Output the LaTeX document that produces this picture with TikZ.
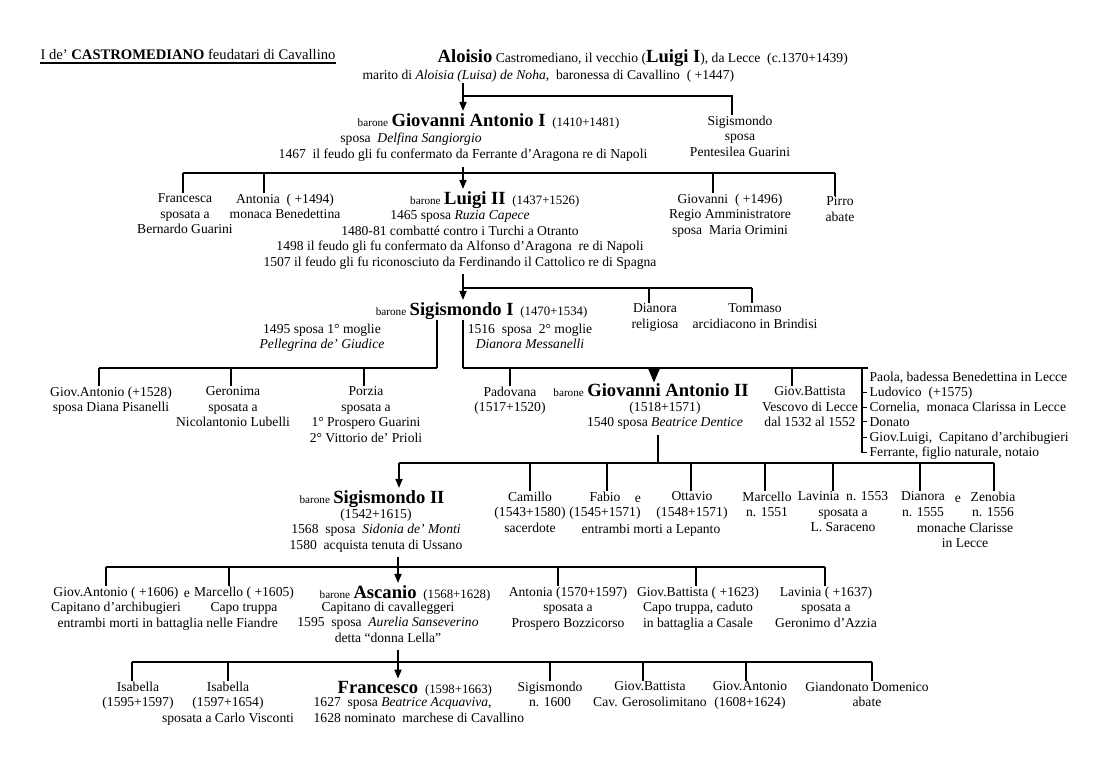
\documentclass[tikz,border=0pt]{standalone}
\usepackage{fontspec}
\setmainfont{Liberation Serif}
\usetikzlibrary{arrows.meta}
\newcommand\bodyf{\fontsize{6.8}{7.7}\selectfont}
\newcommand\namef{\fontsize{9.3}{10}\selectfont\bfseries}
\newcommand\smallf{\fontsize{5.6}{6.5}\selectfont}
\newcommand\datef{\fontsize{6.4}{7.7}\selectfont}
\newcommand\baro{{\smallf barone}\ }
\begin{document}
\begin{tikzpicture}[x=0.5pt,y=-0.5pt,line width=0.65pt,
  ml/.style={inner sep=0pt,align=center,anchor=north,yshift=5.39pt,font=\bodyf,execute at begin node=\strut},
  mll/.style={ml,align=left,anchor=north west},
  one/.style={inner sep=0pt,anchor=base,font=\bodyf},
  arr/.style={-{Triangle[length=4.5pt,width=3.6pt]},shorten >=0.8pt},
  bigarr/.style={-{Triangle[length=7pt,width=5.8pt]}},
  fromp/.style={shorten <=1.5pt}]
\fill[white] (0,0) rectangle (1100,757);
\useasboundingbox (0,0) rectangle (1100,757);

% ---------- row 0
\node[one,anchor=base west,font=\fontsize{7.3}{8}\selectfont] (title) at (40,59) {I de’ \textbf{CASTROMEDIANO}\ feudatari di Cavallino};
\draw[line width=0.6pt] ([yshift=-2pt]title.base west) -- ([yshift=-2pt]title.base east);
\node[one,anchor=base west] (aloisio) at (437,62) {{\namef Aloisio} Castromediano, il vecchio ({\namef Luigi I}), da Lecce\ \ (c.1370+1439)};
\node[one,anchor=base west] (marito) at (362,79) {marito di \textit{Aloisia (Luisa) de Noha},\ \ baronessa di Cavallino\ \ ( +1447)};

% ---------- row 1
\node[one,anchor=base east] (ga1) at (620,126) {\baro{\namef Giovanni Antonio I}\ \ {\datef(1410+1481)}};
\node[ml] (ga1s) at (411,142) {sposa\ \ \textit{Delfina Sangiorgio}};
\node[ml] (ga1f) at (463,158) {1467\ \ il feudo gli fu confermato da Ferrante d’Aragona re di Napoli};
\node[ml] (sig) at (740,126) {Sigismondo\\sposa\\Pentesilea Guarini};

\coordinate (j0) at (463,96);
\coordinate (s0) at (732,96);
\draw[arr] (marito.south -| j0) -- (j0 |- ga1.north);
\draw (j0) -- (s0) -- (s0 |- sig.north);

% ---------- row 2
\node[ml] (fr) at (185,204) {Francesca\\sposata a\\Bernardo Guarini};
\node[ml] (an) at (285,204) {Antonia\ \ ( +1494)\\monaca Benedettina};
\node[one,anchor=base east] (lu2) at (580,204) {\baro{\namef Luigi II}\ \ {\datef(1437+1526)}};
\node[ml] (lu2i) at (460,221) {1465 sposa \textit{Ruzia Capece}\\1480-81 combatté contro i Turchi a Otranto\\1498 il feudo gli fu confermato da Alfonso d’Aragona\ \ re di Napoli\\1507 il feudo gli fu riconosciuto da Ferdinando il Cattolico re di Spagna};
\node[ml] (gi) at (730,204) {Giovanni\ \ ( +1496)\\Regio Amministratore\\sposa\ \ Maria Orimini};
\node[ml] (pi) at (840,207) {Pirro\\abate};

\coordinate (j1) at (463,173);
\coordinate (d1fr) at (183,173);
\coordinate (d1an) at (264,173);
\coordinate (d1gi) at (713,173);
\coordinate (d1pi) at (835,173);
\draw[fromp] (ga1f.south -| j1) -- (j1);
\draw (d1fr) -- (d1pi);
\draw (d1fr) -- (d1fr |- fr.north);
\draw (d1an) -- (d1an |- an.north);
\draw (d1gi) -- (d1gi |- gi.north);
\draw (d1pi) -- (d1pi |- pi.north);
\draw[arr] (j1) -- (j1 |- lu2.north);

% ---------- row 3
\node[one,anchor=base east] (sg1) at (588,315) {\baro{\namef Sigismondo I}\ \ {\datef(1470+1534)}};
\node[ml] (sg1a) at (322,334) {1495 sposa 1° moglie\\\textit{Pellegrina de’ Giudice}};
\node[ml] (sg1b) at (530,334) {1516\ \ sposa\ \ 2° moglie\\\textit{Dianora Messanelli}};
\node[ml] (di) at (655,314) {Dianora\\religiosa};
\node[ml] (to) at (755,314) {Tommaso\\arcidiacono in Brindisi};

\coordinate (j2) at (463,288);
\coordinate (d2di) at (649,288);
\coordinate (d2to) at (752,288);
\draw[fromp] (lu2i.south -| j2) -- (j2) -- (d2to);
\draw (d2di) -- (d2di |- di.north);
\draw (d2to) -- (d2to |- to.north);
\draw[arr] (j2) -- (j2 |- sg1.north);

% ---------- row 4
\node[ml] (gia) at (111,397) {Giov.Antonio (+1528)\\sposa Diana Pisanelli};
\node[ml] (ger) at (233,397) {Geronima\\sposata a\\Nicolantonio Lubelli};
\node[ml] (por) at (366,397) {Porzia\\sposata a\\1° Prospero Guarini\\2° Vittorio de’ Prioli};
\node[ml] (pad) at (510,397) {Padovana\\(1517+1520)};
\node[one] (ga2) at (651,396) {\baro{\namef Giovanni Antonio II}};
\node[ml] (ga2i) at (665,412) {(1518+1571)\\1540 sposa \textit{Beatrice Dentice}};
\node[ml] (gb) at (810,397) {Giov.Battista\\Vescovo di Lecce\\dal 1532 al 1552};
\node[one,anchor=base west] (p1) at (869,381) {Paola, badessa Benedettina in Lecce};
\node[one,anchor=base west] (p2) at (869,396) {Ludovico\ \ (+1575)};
\node[one,anchor=base west] (p3) at (869,411) {Cornelia,\ \ monaca Clarissa in Lecce};
\node[one,anchor=base west] (p4) at (869,426) {Donato};
\node[one,anchor=base west] (p5) at (869,441) {Giov.Luigi,\ \ Capitano d’archibugieri};
\node[one,anchor=base west] (p6) at (869,456) {Ferrante, figlio naturale, notaio};

\coordinate (jl) at (437,368);
\coordinate (jr) at (463,368);
\coordinate (d3a) at (99,368);
\coordinate (d3b) at (231,368);
\coordinate (d3c) at (364,368);
\coordinate (d3d) at (510,368);
\coordinate (d3e) at (654,368);
\coordinate (d3f) at (792,368);
\coordinate (br) at (862,368);
\coordinate (brx) at (868,368);
\draw (jl |- sg1.south) -- (jl);
\draw (jr |- sg1.south) -- (jr);
\draw (d3a) -- (jl);
\draw (jr) -- (brx);
\draw (d3a) -- (d3a |- gia.north);
\draw (d3b) -- (d3b |- ger.north);
\draw (d3c) -- (d3c |- por.north);
\draw (d3d) -- (d3d |- pad.north);
\draw (d3f) -- (d3f |- gb.north);
\draw[bigarr] (d3e) -- (d3e |- ga2.north);
\draw (br) -- (br |- p6.west) -- ([xshift=-1pt]p6.west);
\draw (br |- p2.west) -- ([xshift=-1pt]p2.west);
\draw (br |- p3.west) -- ([xshift=-1pt]p3.west);
\draw (br |- p4.west) -- ([xshift=-1pt]p4.west);
\draw (br |- p5.west) -- ([xshift=-1pt]p5.west);

% ---------- row 5
\node[one] (sg2) at (372,503) {\baro{\namef Sigismondo II}};
\node[ml] (sg2i) at (376,519) {(1542+1615)\\1568\ \ sposa\ \ \textit{Sidonia de’ Monti}\\1580\ \ acquista tenuta di Ussano};
\node[ml] (cam) at (530,502) {Camillo\\(1543+1580)\\sacerdote};
\node[ml] (fab) at (605,502) {Fabio\\(1545+1571)};
\node[one] (fe) at (638,502) {e};
\node[ml] (ott) at (692,502) {Ottavio\\(1548+1571)};
\node[ml] (ent) at (651,533) {entrambi morti a Lepanto};
\node[ml] (mar) at (767,502) {Marcello\\n. 1551};
\node[ml] (lav) at (843,502) {Lavinia\ \ n. 1553\\sposata a\\L. Saraceno};
\node[ml] (dia) at (923,502) {Dianora\\n. 1555};
\node[one] (dze) at (958,502) {e};
\node[ml] (zen) at (993,502) {Zenobia\\n. 1556};
\node[ml] (mon) at (965,533) {monache Clarisse\\in Lecce};

\coordinate (j3) at (658,463);
\coordinate (d4a) at (399,463);
\coordinate (d4b) at (530,463);
\coordinate (d4c) at (607,463);
\coordinate (d4d) at (691,463);
\coordinate (d4e) at (765,463);
\coordinate (d4f) at (833,463);
\coordinate (d4g) at (920,463);
\coordinate (d4h) at (994,463);
\draw[fromp] (ga2i.south -| j3) -- (j3);
\draw (d4a) -- (d4h);
\draw[arr] (d4a) -- (d4a |- sg2.north);
\draw (d4b) -- (d4b |- cam.north);
\draw (d4c) -- (d4c |- fab.north);
\draw (d4d) -- (d4d |- ott.north);
\draw (d4e) -- (d4e |- mar.north);
\draw (d4f) -- (d4f |- lav.north);
\draw (d4g) -- (d4g |- dia.north);
\draw (d4h) -- (d4h |- zen.north);

% ---------- row 6
\node[ml] (ga3) at (116,597) {Giov.Antonio ( +1606)\\Capitano d’archibugieri};
\node[one] (ge) at (187,597) {e};
\node[ml] (mc) at (244,597) {Marcello ( +1605)\\Capo truppa};
\node[ml,anchor=north west] (ent2) at (57,627) {entrambi morti in battaglia nelle Fiandre};
\node[one] (asc) at (405,598) {\baro{\namef Ascanio}\ \ {\datef(1568+1628)}};
\node[ml] (asci) at (388,612) {Capitano di cavalleggeri\\1595\ \ sposa\ \ \textit{Aurelia Sanseverino}\\detta “donna Lella”};
\node[ml] (ant) at (568,597) {Antonia (1570+1597)\\sposata a\\Prospero Bozzicorso};
\node[ml] (gb2) at (698,597) {Giov.Battista ( +1623)\\Capo truppa, caduto\\in battaglia a Casale};
\node[ml] (lv2) at (826,597) {Lavinia ( +1637)\\sposata a\\Geronimo d’Azzia};

\coordinate (j4) at (398,567);
\coordinate (d5a) at (106,567);
\coordinate (d5b) at (229,567);
\coordinate (d5c) at (558,567);
\coordinate (d5d) at (696,567);
\coordinate (d5e) at (825,567);
\draw[fromp] (sg2i.south -| j4) -- (j4);
\draw (d5a) -- (d5e);
\draw[arr] (j4) -- (j4 |- asc.north);
\draw (d5a) -- (d5a |- ga3.north);
\draw (d5b) -- (d5b |- mc.north);
\draw (d5c) -- (d5c |- ant.north);
\draw (d5d) -- (d5d |- gb2.north);
\draw (d5e) -- (d5e |- lv2.north);

% ---------- row 7
\node[ml] (is1) at (138,692) {Isabella\\(1595+1597)};
\node[ml] (is2) at (228,692) {Isabella\\(1597+1654)\\sposata a Carlo Visconti};
\node[one,anchor=base west] (fra) at (337,693) {{\namef Francesco}\ \ {\datef(1598+1663)}};
\node[mll] (frai) at (313,708) {1627\ \ sposa \textit{Beatrice Acquaviva},\\1628 nominato\ \ marchese di Cavallino};
\node[ml] (sgm) at (550,692) {Sigismondo\\n. 1600};
\node[ml] (gb3) at (650,692) {Giov.Battista\\Cav. Gerosolimitano};
\node[ml] (ga4) at (750,692) {Giov.Antonio\\(1608+1624)};
\node[ml] (gd) at (867,692) {Giandonato Domenico\\abate};

\coordinate (j5) at (398,662);
\coordinate (d6a) at (132,662);
\coordinate (d6b) at (228,662);
\coordinate (d6c) at (550,662);
\coordinate (d6d) at (643,662);
\coordinate (d6e) at (746,662);
\coordinate (d6f) at (872,662);
\draw[fromp] (asci.south -| j5) -- (j5);
\draw (d6a) -- (d6f);
\draw[arr] (j5) -- (j5 |- fra.north);
\draw (d6a) -- (d6a |- is1.north);
\draw (d6b) -- (d6b |- is2.north);
\draw (d6c) -- (d6c |- sgm.north);
\draw (d6d) -- (d6d |- gb3.north);
\draw (d6e) -- (d6e |- ga4.north);
\draw (d6f) -- (d6f |- gd.north);
\end{tikzpicture}
\end{document}
